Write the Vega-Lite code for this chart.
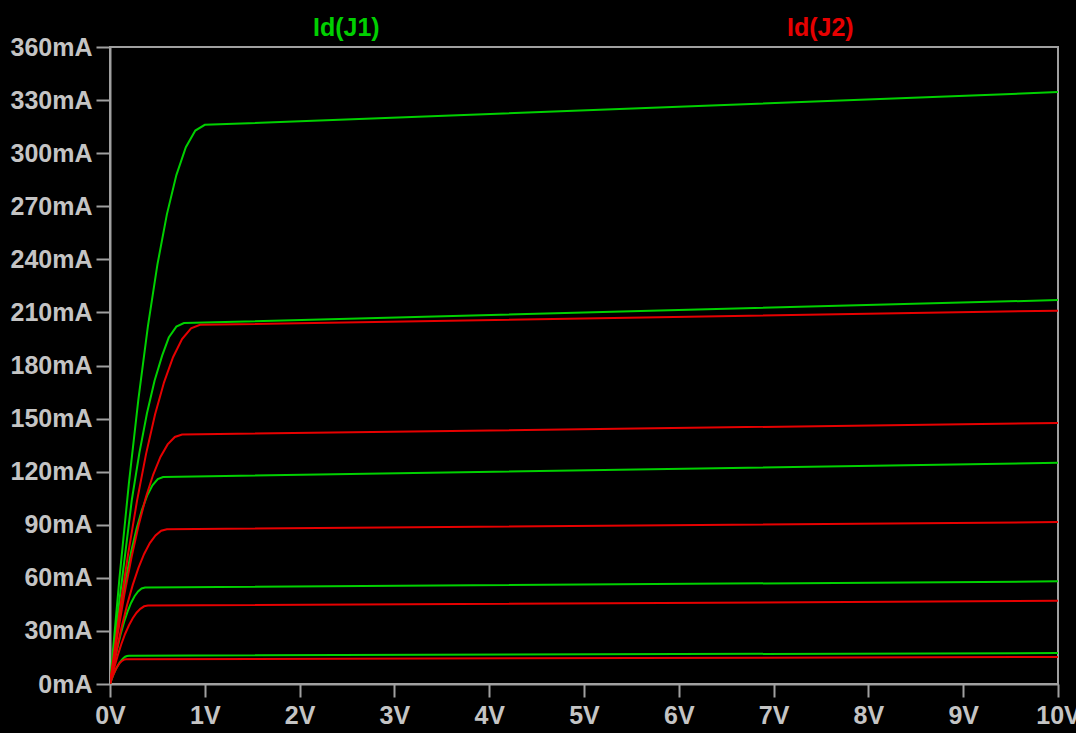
{
  "$schema": "https://vega.github.io/schema/vega-lite/v6.json",
  "width": 948,
  "height": 637,
  "autosize": {"type": "none"},
  "padding": {"left": 110, "top": 47, "right": 18, "bottom": 49},
  "background": "#000000",
  "data": {"values": [
    {"v":0,"i":0,"t":"Id(J1)","c":"J1a"},{"v":0.1,"i":60.0,"t":"Id(J1)","c":"J1a"},{"v":0.2,"i":113.8,"t":"Id(J1)","c":"J1a"},{"v":0.3,"i":161.2,"t":"Id(J1)","c":"J1a"},{"v":0.4,"i":202.2,"t":"Id(J1)","c":"J1a"},{"v":0.5,"i":237.0,"t":"Id(J1)","c":"J1a"},{"v":0.6,"i":265.4,"t":"Id(J1)","c":"J1a"},{"v":0.7,"i":287.6,"t":"Id(J1)","c":"J1a"},{"v":0.8,"i":303.4,"t":"Id(J1)","c":"J1a"},{"v":0.9,"i":312.8,"t":"Id(J1)","c":"J1a"},{"v":1.0,"i":316,"t":"Id(J1)","c":"J1a"},{"v":10,"i":334.5,"t":"Id(J1)","c":"J1a"},
    {"v":0,"i":0,"t":"Id(J1)","c":"J1b"},{"v":0.08,"i":38.8,"t":"Id(J1)","c":"J1b"},{"v":0.16,"i":73.4,"t":"Id(J1)","c":"J1b"},{"v":0.23,"i":104.0,"t":"Id(J1)","c":"J1b"},{"v":0.31,"i":130.6,"t":"Id(J1)","c":"J1b"},{"v":0.39,"i":153.0,"t":"Id(J1)","c":"J1b"},{"v":0.47,"i":171.4,"t":"Id(J1)","c":"J1b"},{"v":0.55,"i":185.6,"t":"Id(J1)","c":"J1b"},{"v":0.62,"i":195.8,"t":"Id(J1)","c":"J1b"},{"v":0.70,"i":202.0,"t":"Id(J1)","c":"J1b"},{"v":0.78,"i":204,"t":"Id(J1)","c":"J1b"},{"v":10,"i":217,"t":"Id(J1)","c":"J1b"},
    {"v":0,"i":0,"t":"Id(J1)","c":"J1c"},{"v":0.056,"i":22.2,"t":"Id(J1)","c":"J1c"},{"v":0.112,"i":42.1,"t":"Id(J1)","c":"J1c"},{"v":0.168,"i":59.7,"t":"Id(J1)","c":"J1c"},{"v":0.224,"i":74.9,"t":"Id(J1)","c":"J1c"},{"v":0.28,"i":87.8,"t":"Id(J1)","c":"J1c"},{"v":0.336,"i":98.3,"t":"Id(J1)","c":"J1c"},{"v":0.392,"i":106.5,"t":"Id(J1)","c":"J1c"},{"v":0.448,"i":112.3,"t":"Id(J1)","c":"J1c"},{"v":0.504,"i":115.8,"t":"Id(J1)","c":"J1c"},{"v":0.56,"i":117,"t":"Id(J1)","c":"J1c"},{"v":10,"i":125,"t":"Id(J1)","c":"J1c"},
    {"v":0,"i":0,"t":"Id(J1)","c":"J1d"},{"v":0.037,"i":10.4,"t":"Id(J1)","c":"J1d"},{"v":0.074,"i":19.6,"t":"Id(J1)","c":"J1d"},{"v":0.111,"i":27.8,"t":"Id(J1)","c":"J1d"},{"v":0.148,"i":34.9,"t":"Id(J1)","c":"J1d"},{"v":0.185,"i":40.9,"t":"Id(J1)","c":"J1d"},{"v":0.222,"i":45.8,"t":"Id(J1)","c":"J1d"},{"v":0.259,"i":49.6,"t":"Id(J1)","c":"J1d"},{"v":0.296,"i":52.3,"t":"Id(J1)","c":"J1d"},{"v":0.333,"i":54.0,"t":"Id(J1)","c":"J1d"},{"v":0.37,"i":54.5,"t":"Id(J1)","c":"J1d"},{"v":10,"i":58,"t":"Id(J1)","c":"J1d"},
    {"v":0,"i":0,"t":"Id(J1)","c":"J1e"},{"v":0.02,"i":3.0,"t":"Id(J1)","c":"J1e"},{"v":0.04,"i":5.8,"t":"Id(J1)","c":"J1e"},{"v":0.06,"i":8.2,"t":"Id(J1)","c":"J1e"},{"v":0.08,"i":10.2,"t":"Id(J1)","c":"J1e"},{"v":0.1,"i":12.0,"t":"Id(J1)","c":"J1e"},{"v":0.12,"i":13.4,"t":"Id(J1)","c":"J1e"},{"v":0.14,"i":14.6,"t":"Id(J1)","c":"J1e"},{"v":0.16,"i":15.4,"t":"Id(J1)","c":"J1e"},{"v":0.18,"i":15.8,"t":"Id(J1)","c":"J1e"},{"v":0.2,"i":16,"t":"Id(J1)","c":"J1e"},{"v":10,"i":17.5,"t":"Id(J1)","c":"J1e"},
    {"v":0,"i":0,"t":"Id(J2)","c":"J2a"},{"v":0.095,"i":38.6,"t":"Id(J2)","c":"J2a"},{"v":0.19,"i":73.1,"t":"Id(J2)","c":"J2a"},{"v":0.285,"i":103.5,"t":"Id(J2)","c":"J2a"},{"v":0.38,"i":129.9,"t":"Id(J2)","c":"J2a"},{"v":0.475,"i":152.3,"t":"Id(J2)","c":"J2a"},{"v":0.57,"i":170.5,"t":"Id(J2)","c":"J2a"},{"v":0.665,"i":184.7,"t":"Id(J2)","c":"J2a"},{"v":0.76,"i":194.9,"t":"Id(J2)","c":"J2a"},{"v":0.855,"i":201.0,"t":"Id(J2)","c":"J2a"},{"v":0.95,"i":203,"t":"Id(J2)","c":"J2a"},{"v":10,"i":211,"t":"Id(J2)","c":"J2a"},
    {"v":0,"i":0,"t":"Id(J2)","c":"J2b"},{"v":0.076,"i":26.8,"t":"Id(J2)","c":"J2b"},{"v":0.152,"i":50.8,"t":"Id(J2)","c":"J2b"},{"v":0.228,"i":71.9,"t":"Id(J2)","c":"J2b"},{"v":0.304,"i":90.2,"t":"Id(J2)","c":"J2b"},{"v":0.38,"i":105.8,"t":"Id(J2)","c":"J2b"},{"v":0.456,"i":118.4,"t":"Id(J2)","c":"J2b"},{"v":0.532,"i":128.3,"t":"Id(J2)","c":"J2b"},{"v":0.608,"i":135.4,"t":"Id(J2)","c":"J2b"},{"v":0.684,"i":139.6,"t":"Id(J2)","c":"J2b"},{"v":0.76,"i":141,"t":"Id(J2)","c":"J2b"},{"v":10,"i":147.5,"t":"Id(J2)","c":"J2b"},
    {"v":0,"i":0,"t":"Id(J2)","c":"J2c"},{"v":0.06,"i":16.6,"t":"Id(J2)","c":"J2c"},{"v":0.12,"i":31.5,"t":"Id(J2)","c":"J2c"},{"v":0.18,"i":44.6,"t":"Id(J2)","c":"J2c"},{"v":0.24,"i":56.0,"t":"Id(J2)","c":"J2c"},{"v":0.30,"i":65.6,"t":"Id(J2)","c":"J2c"},{"v":0.36,"i":73.5,"t":"Id(J2)","c":"J2c"},{"v":0.42,"i":79.6,"t":"Id(J2)","c":"J2c"},{"v":0.48,"i":84.0,"t":"Id(J2)","c":"J2c"},{"v":0.54,"i":86.6,"t":"Id(J2)","c":"J2c"},{"v":0.60,"i":87.5,"t":"Id(J2)","c":"J2c"},{"v":10,"i":91.5,"t":"Id(J2)","c":"J2c"},
    {"v":0,"i":0,"t":"Id(J2)","c":"J2d"},{"v":0.04,"i":8.4,"t":"Id(J2)","c":"J2d"},{"v":0.08,"i":15.9,"t":"Id(J2)","c":"J2d"},{"v":0.12,"i":22.6,"t":"Id(J2)","c":"J2d"},{"v":0.16,"i":28.4,"t":"Id(J2)","c":"J2d"},{"v":0.20,"i":33.2,"t":"Id(J2)","c":"J2d"},{"v":0.24,"i":37.2,"t":"Id(J2)","c":"J2d"},{"v":0.28,"i":40.3,"t":"Id(J2)","c":"J2d"},{"v":0.32,"i":42.5,"t":"Id(J2)","c":"J2d"},{"v":0.36,"i":43.9,"t":"Id(J2)","c":"J2d"},{"v":0.40,"i":44.3,"t":"Id(J2)","c":"J2d"},{"v":10,"i":47,"t":"Id(J2)","c":"J2d"},
    {"v":0,"i":0,"t":"Id(J2)","c":"J2e"},{"v":0.017,"i":2.7,"t":"Id(J2)","c":"J2e"},{"v":0.034,"i":5.0,"t":"Id(J2)","c":"J2e"},{"v":0.051,"i":7.1,"t":"Id(J2)","c":"J2e"},{"v":0.068,"i":9.0,"t":"Id(J2)","c":"J2e"},{"v":0.085,"i":10.5,"t":"Id(J2)","c":"J2e"},{"v":0.102,"i":11.8,"t":"Id(J2)","c":"J2e"},{"v":0.119,"i":12.7,"t":"Id(J2)","c":"J2e"},{"v":0.136,"i":13.4,"t":"Id(J2)","c":"J2e"},{"v":0.153,"i":13.9,"t":"Id(J2)","c":"J2e"},{"v":0.17,"i":14,"t":"Id(J2)","c":"J2e"},{"v":10,"i":15.3,"t":"Id(J2)","c":"J2e"}
  ]},
  "mark": {"type": "line", "strokeWidth": 2, "interpolate": "linear", "clip": true},
  "encoding": {
    "x": {"field": "v", "type": "quantitative",
      "scale": {"domain": [0, 10], "nice": false, "zero": false},
      "axis": {"values": [0,1,2,3,4,5,6,7,8,9,10], "labelExpr": "datum.value + 'V'", "tickSize": 13, "labelPadding": 6, "labelFlush": false, "labelOverlap": false, "title": null}},
    "y": {"field": "i", "type": "quantitative",
      "scale": {"domain": [0, 360], "nice": false},
      "axis": {"values": [0,30,60,90,120,150,180,210,240,270,300,330,360], "labelExpr": "datum.value + 'mA'", "tickSize": 14, "labelPadding": 4, "labelFlush": false, "labelOverlap": false, "title": null}},
    "detail": {"field": "c", "type": "nominal"},
    "color": {"field": "t", "type": "nominal",
      "scale": {"domain": ["Id(J1)", "Id(J2)"], "range": ["#00d000", "#e60000"]},
      "legend": {"orient": "none", "legendX": 178, "legendY": -32, "direction": "horizontal", "title": null,
        "symbolSize": 0, "symbolStrokeWidth": 0, "symbolOpacity": 0, "labelOffset": 0, "columnPadding": 382,
        "labelFont": "Liberation Sans", "labelFontSize": 25, "labelFontWeight": "bold", "labelLimit": 300,
        "encode": {"labels": {"update": {"fill": {"scale": "color", "field": "value"}}}}}}
  },
  "config": {
    "view": {"stroke": "#a0a0a0", "strokeWidth": 2},
    "axis": {"domainColor": "#a0a0a0", "domainWidth": 2, "tickColor": "#a0a0a0", "tickWidth": 2,
      "labelColor": "#c4c4c4", "labelFont": "Liberation Sans", "labelFontSize": 25, "labelFontWeight": "bold", "grid": false}
  }
}
